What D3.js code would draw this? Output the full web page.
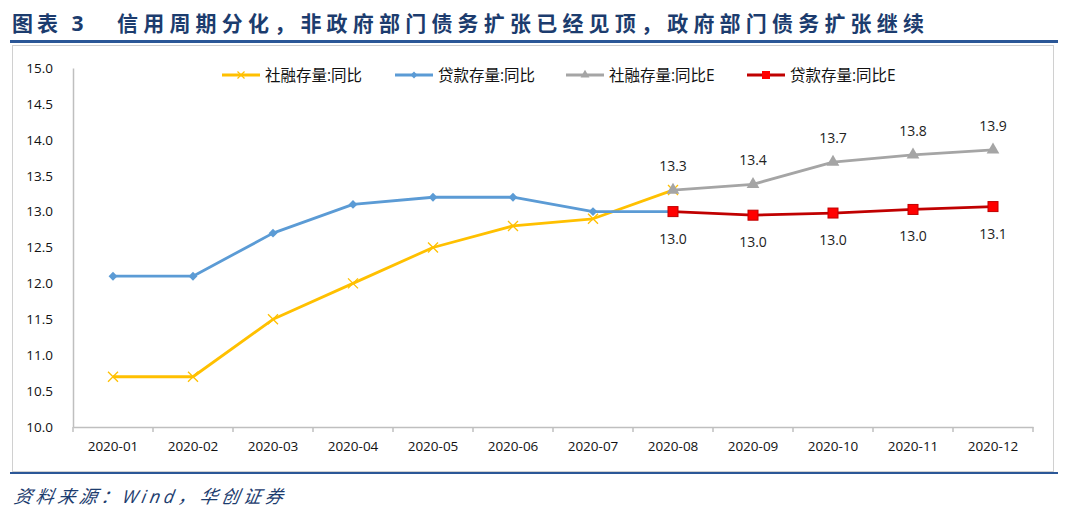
<!doctype html>
<html>
<head>
<meta charset="utf-8">
<script src="https://cdn.jsdelivr.net/npm/d3@7"></script>
<style>
  body { margin: 0; background: #fff; }
  text { font-family: "Open Sans", "Noto Sans CJK SC", sans-serif; }
</style>
</head>
<body>
<svg id="chart" width="1080" height="521"></svg>
<script>
const months = ["2020-01", "2020-02", "2020-03", "2020-04", "2020-05", "2020-06",
  "2020-07", "2020-08", "2020-09", "2020-10", "2020-11", "2020-12"];
const tsf = [10.7, 10.7, 11.5, 12.0, 12.5, 12.8, 12.9, 13.3, null, null, null, null];
const loans = [12.1, 12.1, 12.7, 13.1, 13.2, 13.2, 13.0, 13.0, null, null, null, null];
const tsfE = [null, null, null, null, null, null, null, 13.3, 13.38, 13.69, 13.79, 13.86];
const loansE = [null, null, null, null, null, null, null, 13.0, 12.95, 12.98, 13.03, 13.07];
const tsfELabels = [null, null, null, null, null, null, null, "13.3", "13.4", "13.7", "13.8", "13.9"];
const loansELabels = [null, null, null, null, null, null, null, "13.0", "13.0", "13.0", "13.0", "13.1"];
const yTicks = [10.0, 10.5, 11.0, 11.5, 12.0, 12.5, 13.0, 13.5, 14.0, 14.5, 15.0];

const svg = d3.select("#chart");
const CJK = '"Noto Sans CJK SC", sans-serif';

// title + rules
svg.append("text").attr("x", 12).attr("y", 31)
  .attr("font-family", CJK).attr("font-size", 21).attr("font-weight", 700)
  .attr("fill", "#1c3c6e").attr("letter-spacing", 4).text("图表 3");
svg.append("text").attr("x", 117).attr("y", 31)
  .attr("font-family", CJK).attr("font-size", 21).attr("font-weight", 700)
  .attr("fill", "#1c3c6e").attr("letter-spacing", 5.2)
  .text("信用周期分化，非政府部门债务扩张已经见顶，政府部门债务扩张继续");
svg.append("rect").attr("x", 10).attr("y", 40).attr("width", 1048).attr("height", 3).attr("fill", "#2b5797");
svg.append("rect").attr("x", 12.5).attr("y", 45.5).attr("width", 1041).attr("height", 426)
  .attr("fill", "none").attr("stroke", "#d0d0d0");
svg.append("rect").attr("x", 10).attr("y", 472).attr("width", 1048).attr("height", 2).attr("fill", "#2b5797");
svg.append("text").attr("x", 14).attr("y", 503)
  .attr("font-family", CJK).attr("font-size", 18).attr("font-style", "italic")
  .attr("letter-spacing", 3.7)
  .attr("fill", "#1c3c6e").attr("transform", "skewX(-10) translate(88,0)")
  .text("资料来源：Wind，华创证券");

const x = d3.scaleBand().domain(months).range([73, 1033]);
const y = d3.scaleLinear().domain([10, 15]).range([427, 68]);
const cx = m => x(m) + x.bandwidth() / 2;

// axes
const gy = svg.append("g").attr("transform", "translate(73,0)")
  .call(d3.axisLeft(y).tickValues(yTicks).tickFormat(d3.format(".1f")).tickSize(0).tickPadding(20));
gy.select(".domain").attr("stroke", "#bfbfbf").attr("stroke-width", 1.5);
gy.selectAll("text").attr("font-size", 13.5).attr("fill", "#111").attr("font-family", '"Open Sans", sans-serif');

const gx = svg.append("g").attr("transform", "translate(0,427)")
  .call(d3.axisBottom(x).tickSize(0).tickPadding(14));
gx.select(".domain").attr("stroke", "#bfbfbf").attr("stroke-width", 1.5);
gx.selectAll("text").attr("font-size", 13.5).attr("fill", "#111").attr("font-family", '"Open Sans", sans-serif');
gx.selectAll(".bt").data(months.concat(["end"])).enter().append("line")
  .attr("x1", (d, i) => 73 + i * x.bandwidth()).attr("x2", (d, i) => 73 + i * x.bandwidth())
  .attr("y1", 0).attr("y2", 5).attr("stroke", "#bfbfbf").attr("stroke-width", 1.5);

const series = [
  { name: "社融存量:同比", values: tsf, color: "#ffc000", marker: "x" },
  { name: "贷款存量:同比", values: loans, color: "#5b9bd5", marker: "diamond" },
  { name: "社融存量:同比E", values: tsfE, color: "#a5a5a5", marker: "tri" },
  { name: "贷款存量:同比E", values: loansE, color: "#c00000", marker: "square" }
];

function drawMarker(g, type, color, px, py) {
  if (type === "x") {
    g.append("path").attr("d", `M${px - 5},${py - 5}L${px + 5},${py + 5}M${px - 5},${py + 5}L${px + 5},${py - 5}`)
      .attr("stroke", color).attr("stroke-width", 1.3).attr("fill", "none");
  } else if (type === "diamond") {
    g.append("path").attr("d", d3.symbol(d3.symbolDiamond2, 50)()).attr("transform", `translate(${px},${py})`)
      .attr("fill", color);
  } else if (type === "tri") {
    g.append("path").attr("d", d3.symbol(d3.symbolTriangle, 70)()).attr("transform", `translate(${px},${py})`)
      .attr("fill", color);
  } else {
    g.append("rect").attr("x", px - 5).attr("y", py - 5).attr("width", 10).attr("height", 10)
      .attr("fill", "#ff0000").attr("stroke", "#c00000").attr("stroke-width", 1);
  }
}

const line = d3.line().defined(d => d.v != null).x(d => cx(d.m)).y(d => y(d.v));
series.forEach(s => {
  const pts = months.map((m, i) => ({ m, v: s.values[i] }));
  svg.append("path").datum(pts).attr("d", line)
    .attr("fill", "none").attr("stroke", s.color).attr("stroke-width", 2.8).attr("stroke-linejoin", "round");
  const g = svg.append("g");
  pts.filter(p => p.v != null).forEach(p => drawMarker(g, s.marker, s.color, cx(p.m), y(p.v)));
});

// data labels
months.forEach((m, i) => {
  if (tsfELabels[i]) svg.append("text").attr("x", cx(m)).attr("y", y(tsfE[i]) - 19)
    .attr("text-anchor", "middle").attr("font-size", 14).attr("fill", "#222").text(tsfELabels[i]);
  if (loansELabels[i]) svg.append("text").attr("x", cx(m)).attr("y", y(loansE[i]) + 32)
    .attr("text-anchor", "middle").attr("font-size", 14).attr("fill", "#222").text(loansELabels[i]);
});

// legend
const legendX = [222, 395, 566, 747];
series.forEach((s, i) => {
  const g = svg.append("g");
  g.append("line").attr("x1", legendX[i]).attr("x2", legendX[i] + 38).attr("y1", 75).attr("y2", 75)
    .attr("stroke", s.color).attr("stroke-width", 2.8);
  const mx = legendX[i] + 19;
  if (s.marker === "x") {
    g.append("path").attr("d", `M${mx - 3.5},${71.5}L${mx + 3.5},${78.5}M${mx - 3.5},${78.5}L${mx + 3.5},${71.5}`)
      .attr("stroke", s.color).attr("stroke-width", 1.2);
  } else if (s.marker === "diamond") {
    g.append("path").attr("d", d3.symbol(d3.symbolDiamond2, 30)()).attr("transform", `translate(${mx},75)`).attr("fill", s.color);
  } else if (s.marker === "tri") {
    g.append("path").attr("d", d3.symbol(d3.symbolTriangle, 35)()).attr("transform", `translate(${mx},75)`).attr("fill", s.color);
  } else {
    g.append("rect").attr("x", mx - 4).attr("y", 71).attr("width", 8).attr("height", 8).attr("fill", "#ff0000");
  }
  g.append("text").attr("x", legendX[i] + 43).attr("y", 80.5)
    .attr("font-family", CJK).attr("font-size", 15.5).attr("fill", "#111").text(s.name);
});
</script>
</body>
</html>
